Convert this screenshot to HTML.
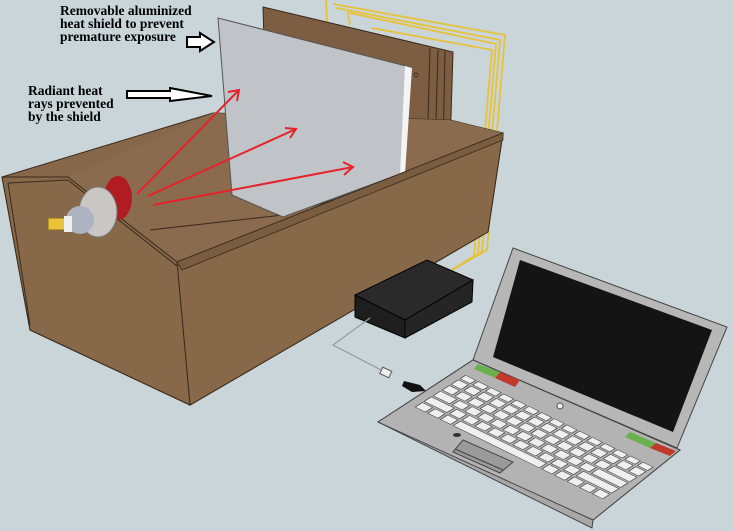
<!DOCTYPE html>
<html><head><meta charset="utf-8"><style>
html,body{margin:0;padding:0;background:#c9d5d9;}
svg{display:block}
text{font-family:"Liberation Serif",serif;font-weight:bold;font-size:13.5px;fill:#000}
</style></head><body>
<svg width="734" height="531" viewBox="0 0 734 531">
<rect width="734" height="531" fill="#c9d5d9"/>
<!-- yellow wires -->
<g fill="none" stroke="#e7c23a" stroke-width="1.8">
<path d="M326 0 L327 22 M333 4 L505 35 L487 250 L452 270"/>
<path d="M336 8 L500 40 L482 252 L448 272"/>
<path d="M348 12 L350 25 M350 13 L496 44 L478 254 L446 274"/>
<path d="M372 28 L492 50 L474 256 L443 276"/>
</g>
<!-- back plates -->
<polygon points="263,7 453,52 450,150 266,110" fill="#7d5e42" stroke="#3a2a1c" stroke-width="1"/>
<line x1="430" y1="48" x2="427" y2="158" stroke="#3a2a1c"/>
<line x1="438" y1="50" x2="435" y2="156" stroke="#3a2a1c"/>
<line x1="445" y1="51" x2="443" y2="154" stroke="#3a2a1c"/>
<circle cx="416" cy="75" r="2" fill="none" stroke="#333"/>
<!-- box back/interior -->
<polygon points="2,177 213,113 450,120 503,133 488,232 190,405 30,330" fill="#86674a" stroke="#3a2a1c"/>
<polygon points="68,177 213,113 450,120 503,133 177,262" fill="#8a6b4d"/>
<polyline points="150,230 283,215 450,165 503,133" fill="none" stroke="#3a2a1c"/>
<!-- shield -->
<polygon points="218,18 410,67 403,173 283,217 232,195" fill="#c0c4c8" stroke="#555"/>
<polygon points="405,66 412,68 405,174 400,175" fill="#f4f4f4"/>
<!-- front panel & left end -->
<polygon points="177,262 503,133 488,232 190,405" fill="#876849" stroke="#3a2a1c"/>
<polygon points="182,270 503,140 503,133 177,262" fill="#7a5c40" stroke="#3a2a1c" stroke-width="0.8"/>
<polygon points="2,177 68,177 177,262 190,405 30,330" fill="#876849" stroke="#3a2a1c"/>
<polyline points="8,183 30,325" fill="none" stroke="#3a2a1c"/>
<polyline points="8,183 68,180 177,266" fill="none" stroke="#3a2a1c"/>
<!-- bulb -->
<ellipse cx="118" cy="198" rx="14" ry="22" fill="#b01c22"/>
<ellipse cx="98" cy="212" rx="19" ry="25" fill="#c9c6c4" stroke="#777"/>
<ellipse cx="80" cy="220" rx="14" ry="14" fill="#aeb3c2"/>
<rect x="48" y="218" width="18" height="12" fill="#e8c43a" stroke="#8a7020"/>
<rect x="64" y="216" width="8" height="16" fill="#eee"/>
<!-- red arrows -->
<g stroke="#e4232b" stroke-width="2" fill="none">
<path d="M137 194 L239 90 M228 92 L239 90 L237 101"/>
<path d="M148 196 L296 129 M285 128 L296 129 L290 138"/>
<path d="M153 205 L353 167 M343 162 L353 167 L344 175"/>
</g>
<!-- labels -->
<text x="60" y="15">Removable aluminized</text>
<text x="60" y="28">heat shield to prevent</text>
<text x="60" y="41">premature exposure</text>
<text x="28" y="95">Radiant heat</text>
<text x="28" y="108">rays prevented</text>
<text x="28" y="121">by the shield</text>
<polygon points="187,37 200,37 200,33 214,42 200,51 200,47 187,47" fill="#fff" stroke="#000" stroke-width="2"/>
<polygon points="127,91 170,91 170,88 212,96 170,101 170,98 127,98" fill="#fff" stroke="#000" stroke-width="2"/>
<!-- black box -->
<polygon points="355,295 427,260 473,280 405,320" fill="#2a2a2a" stroke="#000"/>
<polygon points="355,295 405,320 405,338 355,317" fill="#1e1e1e" stroke="#000"/>
<polygon points="405,320 473,280 472,302 405,338" fill="#252525" stroke="#000"/>
<!-- cable -->
<polyline points="370,318 333,345 385,372" fill="none" stroke="#999" stroke-width="1.2"/>
<rect x="381" y="369" width="10" height="7" fill="#eee" stroke="#555" transform="rotate(25 386 372)"/>
<polygon points="404,381 420,385 426,391 412,392 402,386" fill="#111"/>
<!-- laptop screen -->
<polygon points="513,248 727,327 677,448 473,360" fill="#b7b7b7" stroke="#444"/>
<polygon points="520,260 712,330 673,432 493,357" fill="#141414"/>
<!-- laptop base -->
<polygon points="378,422 592,528 593,520 680,450 473,360" fill="#a8a8a8" stroke="#444"/>
<polygon points="378,422 473,360 680,450 593,520" fill="#b3b3b3" stroke="#444"/>
<polygon points="478,364 500,372 495,378 474,369" fill="#6ab04c"/>
<polygon points="500,372 520,380 515,387 495,378" fill="#c0392b"/>
<polygon points="630,432 656,443 650,448 625,437" fill="#6ab04c"/>
<polygon points="656,443 676,451 670,456 650,448" fill="#c0392b"/>
<circle cx="560" cy="406" r="3" fill="#eee" stroke="#555"/>
<g transform="matrix(12.67,6.2,9,-5.67,413,407)">
<g fill="#efefef" stroke="#444" stroke-width="0.06">
<rect x="0.1" y="0.1" width="0.8" height="0.8"/><rect x="1.1" y="0.1" width="0.8" height="0.8"/><rect x="2.1" y="0.1" width="0.8" height="0.8"/><rect x="3.1" y="0.1" width="6.8" height="0.8"/><rect x="10.1" y="0.1" width="0.8" height="0.8"/><rect x="11.1" y="0.1" width="0.8" height="0.8"/><rect x="12.1" y="0.1" width="0.8" height="0.8"/><rect x="13.1" y="0.1" width="0.8" height="0.8"/><rect x="14.1" y="0.1" width="0.8" height="0.8"/>
<rect x="0.1" y="1.1" width="1.8" height="0.8"/><rect x="2.1" y="1.1" width="0.8" height="0.8"/><rect x="3.1" y="1.1" width="0.8" height="0.8"/><rect x="4.1" y="1.1" width="0.8" height="0.8"/><rect x="5.1" y="1.1" width="0.8" height="0.8"/><rect x="6.1" y="1.1" width="0.8" height="0.8"/><rect x="7.1" y="1.1" width="0.8" height="0.8"/><rect x="8.1" y="1.1" width="0.8" height="0.8"/><rect x="9.1" y="1.1" width="0.8" height="0.8"/><rect x="10.1" y="1.1" width="0.8" height="0.8"/><rect x="11.1" y="1.1" width="0.8" height="0.8"/><rect x="12.1" y="1.1" width="2.8" height="0.8"/>
<rect x="0.1" y="2.1" width="1.3" height="0.8"/><rect x="1.6" y="2.1" width="0.8" height="0.8"/><rect x="2.6" y="2.1" width="0.8" height="0.8"/><rect x="3.6" y="2.1" width="0.8" height="0.8"/><rect x="4.6" y="2.1" width="0.8" height="0.8"/><rect x="5.6" y="2.1" width="0.8" height="0.8"/><rect x="6.6" y="2.1" width="0.8" height="0.8"/><rect x="7.6" y="2.1" width="0.8" height="0.8"/><rect x="8.6" y="2.1" width="0.8" height="0.8"/><rect x="9.6" y="2.1" width="0.8" height="0.8"/><rect x="10.6" y="2.1" width="0.8" height="0.8"/><rect x="11.6" y="2.1" width="0.8" height="0.8"/><rect x="12.6" y="2.1" width="2.3" height="0.8"/>
<rect x="0.1" y="3.1" width="0.8" height="0.8"/><rect x="1.1" y="3.1" width="0.8" height="0.8"/><rect x="2.1" y="3.1" width="0.8" height="0.8"/><rect x="3.1" y="3.1" width="0.8" height="0.8"/><rect x="4.1" y="3.1" width="0.8" height="0.8"/><rect x="5.1" y="3.1" width="0.8" height="0.8"/><rect x="6.1" y="3.1" width="0.8" height="0.8"/><rect x="7.1" y="3.1" width="0.8" height="0.8"/><rect x="8.1" y="3.1" width="0.8" height="0.8"/><rect x="9.1" y="3.1" width="0.8" height="0.8"/><rect x="10.1" y="3.1" width="0.8" height="0.8"/><rect x="11.1" y="3.1" width="0.8" height="0.8"/><rect x="12.1" y="3.1" width="0.8" height="0.8"/><rect x="13.1" y="3.1" width="1.8" height="0.8"/>
<rect x="0.1" y="4.1" width="0.8" height="0.8"/><rect x="1.1" y="4.1" width="0.8" height="0.8"/><rect x="2.1" y="4.1" width="0.8" height="0.8"/><rect x="3.1" y="4.1" width="0.8" height="0.8"/><rect x="4.1" y="4.1" width="0.8" height="0.8"/><rect x="5.1" y="4.1" width="0.8" height="0.8"/><rect x="6.1" y="4.1" width="0.8" height="0.8"/><rect x="7.1" y="4.1" width="0.8" height="0.8"/><rect x="8.1" y="4.1" width="0.8" height="0.8"/><rect x="9.1" y="4.1" width="0.8" height="0.8"/><rect x="10.1" y="4.1" width="0.8" height="0.8"/><rect x="11.1" y="4.1" width="0.8" height="0.8"/><rect x="12.1" y="4.1" width="0.8" height="0.8"/><rect x="13.1" y="4.1" width="0.8" height="0.8"/><rect x="14.1" y="4.1" width="0.8" height="0.8"/>
<rect x="0.1" y="5.1" width="0.8" height="0.6"/><rect x="1.1" y="5.1" width="0.8" height="0.6"/><rect x="2.1" y="5.1" width="0.8" height="0.6"/><rect x="3.1" y="5.1" width="0.8" height="0.6"/><rect x="4.1" y="5.1" width="0.8" height="0.6"/><rect x="5.1" y="5.1" width="0.8" height="0.6"/><rect x="6.1" y="5.1" width="0.8" height="0.6"/><rect x="7.1" y="5.1" width="0.8" height="0.6"/><rect x="8.1" y="5.1" width="0.8" height="0.6"/><rect x="9.1" y="5.1" width="0.8" height="0.6"/><rect x="10.1" y="5.1" width="0.8" height="0.6"/><rect x="11.1" y="5.1" width="0.8" height="0.6"/><rect x="12.1" y="5.1" width="0.8" height="0.6"/><rect x="13.1" y="5.1" width="0.8" height="0.6"/><rect x="14.1" y="5.1" width="0.8" height="0.6"/>
</g></g>
<polygon points="463,440 513,462 500,473 453,452" fill="#9a9a9a" stroke="#444"/>
<line x1="455" y1="449" x2="503" y2="470" stroke="#444"/>
<ellipse cx="457" cy="435" rx="4" ry="2" fill="#333"/>
</svg>
</body></html>
